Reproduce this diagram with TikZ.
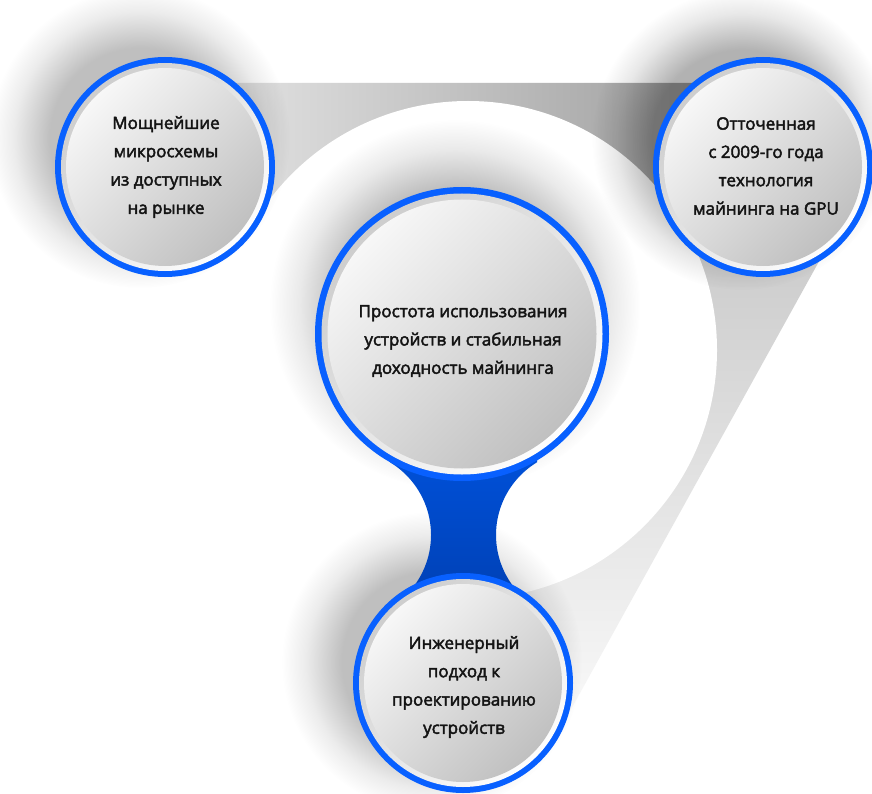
\documentclass[tikz,border=0pt]{standalone}
\usepackage{fontspec}
\newfontfamily\tf{Open Sans}[FakeBold=2.6]
\usetikzlibrary{fadings,shadings}
\definecolor{ringblue}{RGB}{8,96,255}
\definecolor{ringtop}{RGB}{204,204,204}
\definecolor{disktop}{RGB}{247,247,247}
\definecolor{diskbot}{RGB}{192,192,192}
\definecolor{connA}{RGB}{0,82,220}
\definecolor{connB}{RGB}{0,62,175}
\definecolor{bandL}{RGB}{230,230,230}
\definecolor{bandM}{RGB}{212,212,212}
\definecolor{bandR}{RGB}{150,150,150}
\definecolor{bandT}{RGB}{196,196,196}
\definecolor{bandB}{RGB}{250,250,250}
\pgfdeclareradialshading{shfz}{\pgfpointorigin}{color(0bp)=(pgftransparent!0); color(15bp)=(pgftransparent!0); color(18bp)=(pgftransparent!35); color(21bp)=(pgftransparent!70); color(25bp)=(pgftransparent!100); color(50bp)=(pgftransparent!100)}
\pgfdeclarefading{shfade}{\pgfuseshading{shfz}}
\tikzset{
  bubble/.style n args={3}{circle, inner sep=0pt, minimum size={2*#1pt}, fill=ringblue,
    path picture={
      \shade[top color=ringtop, bottom color=white, shading angle=45]
        (path picture bounding box.center) circle[radius=#2pt];
      \shade[top color=disktop, bottom color=diskbot, shading angle=45]
        (path picture bounding box.center) circle[radius=#3pt];
    }},
  label text/.style={align=center, font=\tf\fontsize{17}{28.3}\selectfont, text=black!92},
  softshadow/.style={fill=black, opacity=#1, path fading=shfade},
}
\begin{document}
\begin{tikzpicture}[x=1pt,y=-1pt]
\useasboundingbox (0,0) rectangle (872,794);
\fill[white] (0,0) rectangle (872,794);
% gray bands
\shade[left color=bandL, middle color=bandM, right color=bandR]
  (200,83) -- (763,83) -- (763,260) -- (468,350) -- (200,200) -- cycle;
\shade[top color=bandT, bottom color=bandB]
  (853,200) -- (559.5,730) -- (463,683) -- (468,350) -- (763,167) -- cycle;
% inner white disc
\fill[white] (468,350) circle (249);
% shadows
\fill[softshadow=0.25] (140,138) circle (150);
\fill[softshadow=0.3] (742,140) circle (150);
\fill[softshadow=0.28] (455,305) circle (185);
\fill[softshadow=0.25] (432,662) circle (150);
% connector
\begin{scope}
  \clip (390,450) rectangle (537,615);
  \shade[top color=connA, bottom color=connB, even odd rule]
    (380,440) rectangle (550,625) (346,535) circle (85) (581,535) circle (85);
\end{scope}
% bubbles
\node[bubble={110}{104}{99}] (tl) at (165,167) {};
\node[bubble={110}{104}{99}] (tr) at (763,167) {};
\node[bubble={147}{140.5}{134.5}] (ce) at (462,334) {};
\node[bubble={110}{104}{99}] (bo) at (463,683) {};
% texts
\node[label text] (tlt) at (166,167) {Мощнейшие\\микросхемы\\из доступных\\на рынке};
\node[label text] (trt) at (766,166) {Отточенная\\с 2009-го года\\технология\\майнинга на GPU};
\node[label text] (cet) at (463,341) {Простота использования\\устройств и стабильная\\доходность майнинга};
\node[label text] (bot) at (464,687) {Инженерный\\подход к\\проектированию\\устройств};
\end{tikzpicture}
\end{document}
